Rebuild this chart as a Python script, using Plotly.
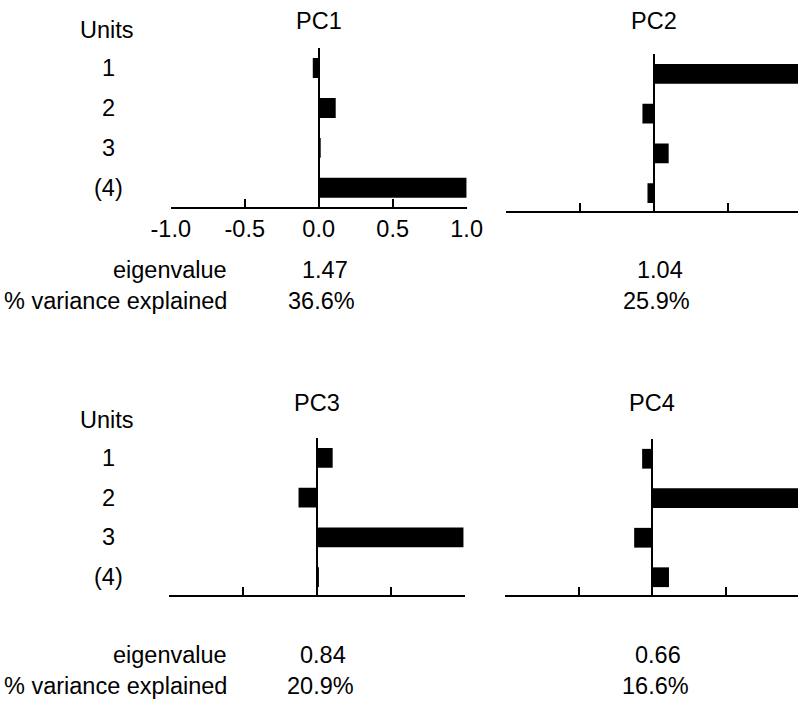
import plotly.graph_objects as go

# ---- data ----
units = [1, 2, 3, 4]
unit_labels = ["1", "2", "3", "(4)"]
pc_titles = ["PC1", "PC2", "PC3", "PC4"]
pc1 = [-0.04, 0.115, 0.012, 1.0]
pc2 = [0.99, -0.077, 0.10, -0.043]
pc3 = [0.105, -0.126, 0.99, 0.012]
pc4 = [-0.07, 0.99, -0.124, 0.112]
eigenvalues = ["1.47", "1.04", "0.84", "0.66"]
variance = ["36.6%", "25.9%", "20.9%", "16.6%"]
tick_vals = [-1.0, -0.5, 0.0, 0.5, 1.0]
tick_text = ["-1.0", "-0.5", "0.0", "0.5", "1.0"]
row_labels = ["eigenvalue", "% variance explained"]

W, H = 798, 704
FONT = "Liberation Sans, Arial, Helvetica, sans-serif"
FS = 23.5


def px(x):
    return x / W


def py(y):
    return 1 - y / H


fig = go.Figure()

series = [pc1, pc2, pc3, pc4]
panels = [
    (170.7, 466.7, [-1.0005, 1.0005], 48, 207, [4.48, 0.5]),
    (505.7, 798, [-1.0, 0.973], 54, 211, [4.45, 0.5]),
    (169.3, 465, [-1.0005, 1.0005], 438, 595, [4.45, 0.5]),
    (505, 798, [-1.0, 0.987], 439, 595, [4.45, 0.5]),
]

layout = dict(
    width=W, height=H, autosize=False,
    margin=dict(l=0, r=0, t=0, b=0, pad=0, autoexpand=False),
    paper_bgcolor="white", plot_bgcolor="rgba(0,0,0,0)",
    showlegend=False,
    font=dict(family=FONT, size=FS, color="black"),
)

annotations = []
for i, (vals, geo) in enumerate(zip(series, panels)):
    xl, xr, xrng, yt, yb, yrng = geo
    sfx = "" if i == 0 else str(i + 1)
    fig.add_trace(go.Bar(
        x=vals, y=units, orientation="h", width=0.5,
        marker=dict(color="black", line=dict(width=0)),
        xaxis="x" + sfx, yaxis="y" + sfx, hoverinfo="skip",
    ))
    layout["xaxis" + sfx] = dict(
        domain=[px(xl), px(xr)], range=xrng, anchor="y" + sfx,
        showgrid=False, zeroline=True, zerolinecolor="black", zerolinewidth=2,
        showline=True, linecolor="black", linewidth=2,
        ticks="inside", ticklen=8, tickwidth=2, tickcolor="black",
        tickmode="array", tickvals=tick_vals, ticktext=tick_text,
        showticklabels=(i == 0), tickfont=dict(family=FONT, size=FS, color="black"),
        automargin=False, fixedrange=True,
    )
    layout["yaxis" + sfx] = dict(
        domain=[py(yb), py(yt)], range=yrng, anchor="x" + sfx,
        showgrid=False, zeroline=False, showline=False, showticklabels=False,
        ticks="", automargin=False, fixedrange=True,
    )
    title_y = 21 if i < 2 else 403
    annotations.append(dict(
        text=pc_titles[i], xref="x" + sfx, x=0, yref="paper", y=py(title_y),
        xanchor="center", yanchor="middle", showarrow=False,
        font=dict(family=FONT, size=FS, color="black")))
    ey, vy = (270, 301) if i < 2 else (655, 686)
    annotations.append(dict(
        text=eigenvalues[i], xref="x" + sfx, x=0, xshift=6, yref="paper", y=py(ey),
        xanchor="center", yanchor="middle", showarrow=False,
        font=dict(family=FONT, size=FS, color="black")))
    annotations.append(dict(
        text=variance[i], xref="x" + sfx, x=0, xshift=3, yref="paper", y=py(vy),
        xanchor="center", yanchor="middle", showarrow=False,
        font=dict(family=FONT, size=FS, color="black")))

for r, (sfx, uy, ey, vy) in enumerate([("", 30, 270, 301), ("3", 420, 655, 686)]):
    annotations.append(dict(
        text="Units", xref="paper", x=px(107), yref="paper", y=py(uy),
        xanchor="center", yanchor="middle", showarrow=False,
        font=dict(family=FONT, size=FS, color="black")))
    for u, lab in zip(units, unit_labels):
        annotations.append(dict(
            text=lab, xref="paper", x=px(108), yref="y" + sfx, y=u,
            xanchor="center", yanchor="middle", showarrow=False,
            font=dict(family=FONT, size=FS, color="black")))
    for lab, yy in zip(row_labels, (ey, vy)):
        annotations.append(dict(
            text=lab, xref="paper", x=px(229), yref="paper", y=py(yy),
            xanchor="right", yanchor="middle", showarrow=False,
            font=dict(family=FONT, size=FS, color="black")))

layout["annotations"] = annotations
fig.update_layout(**layout)
fig.write_html("out.html", config={"responsive": False})
